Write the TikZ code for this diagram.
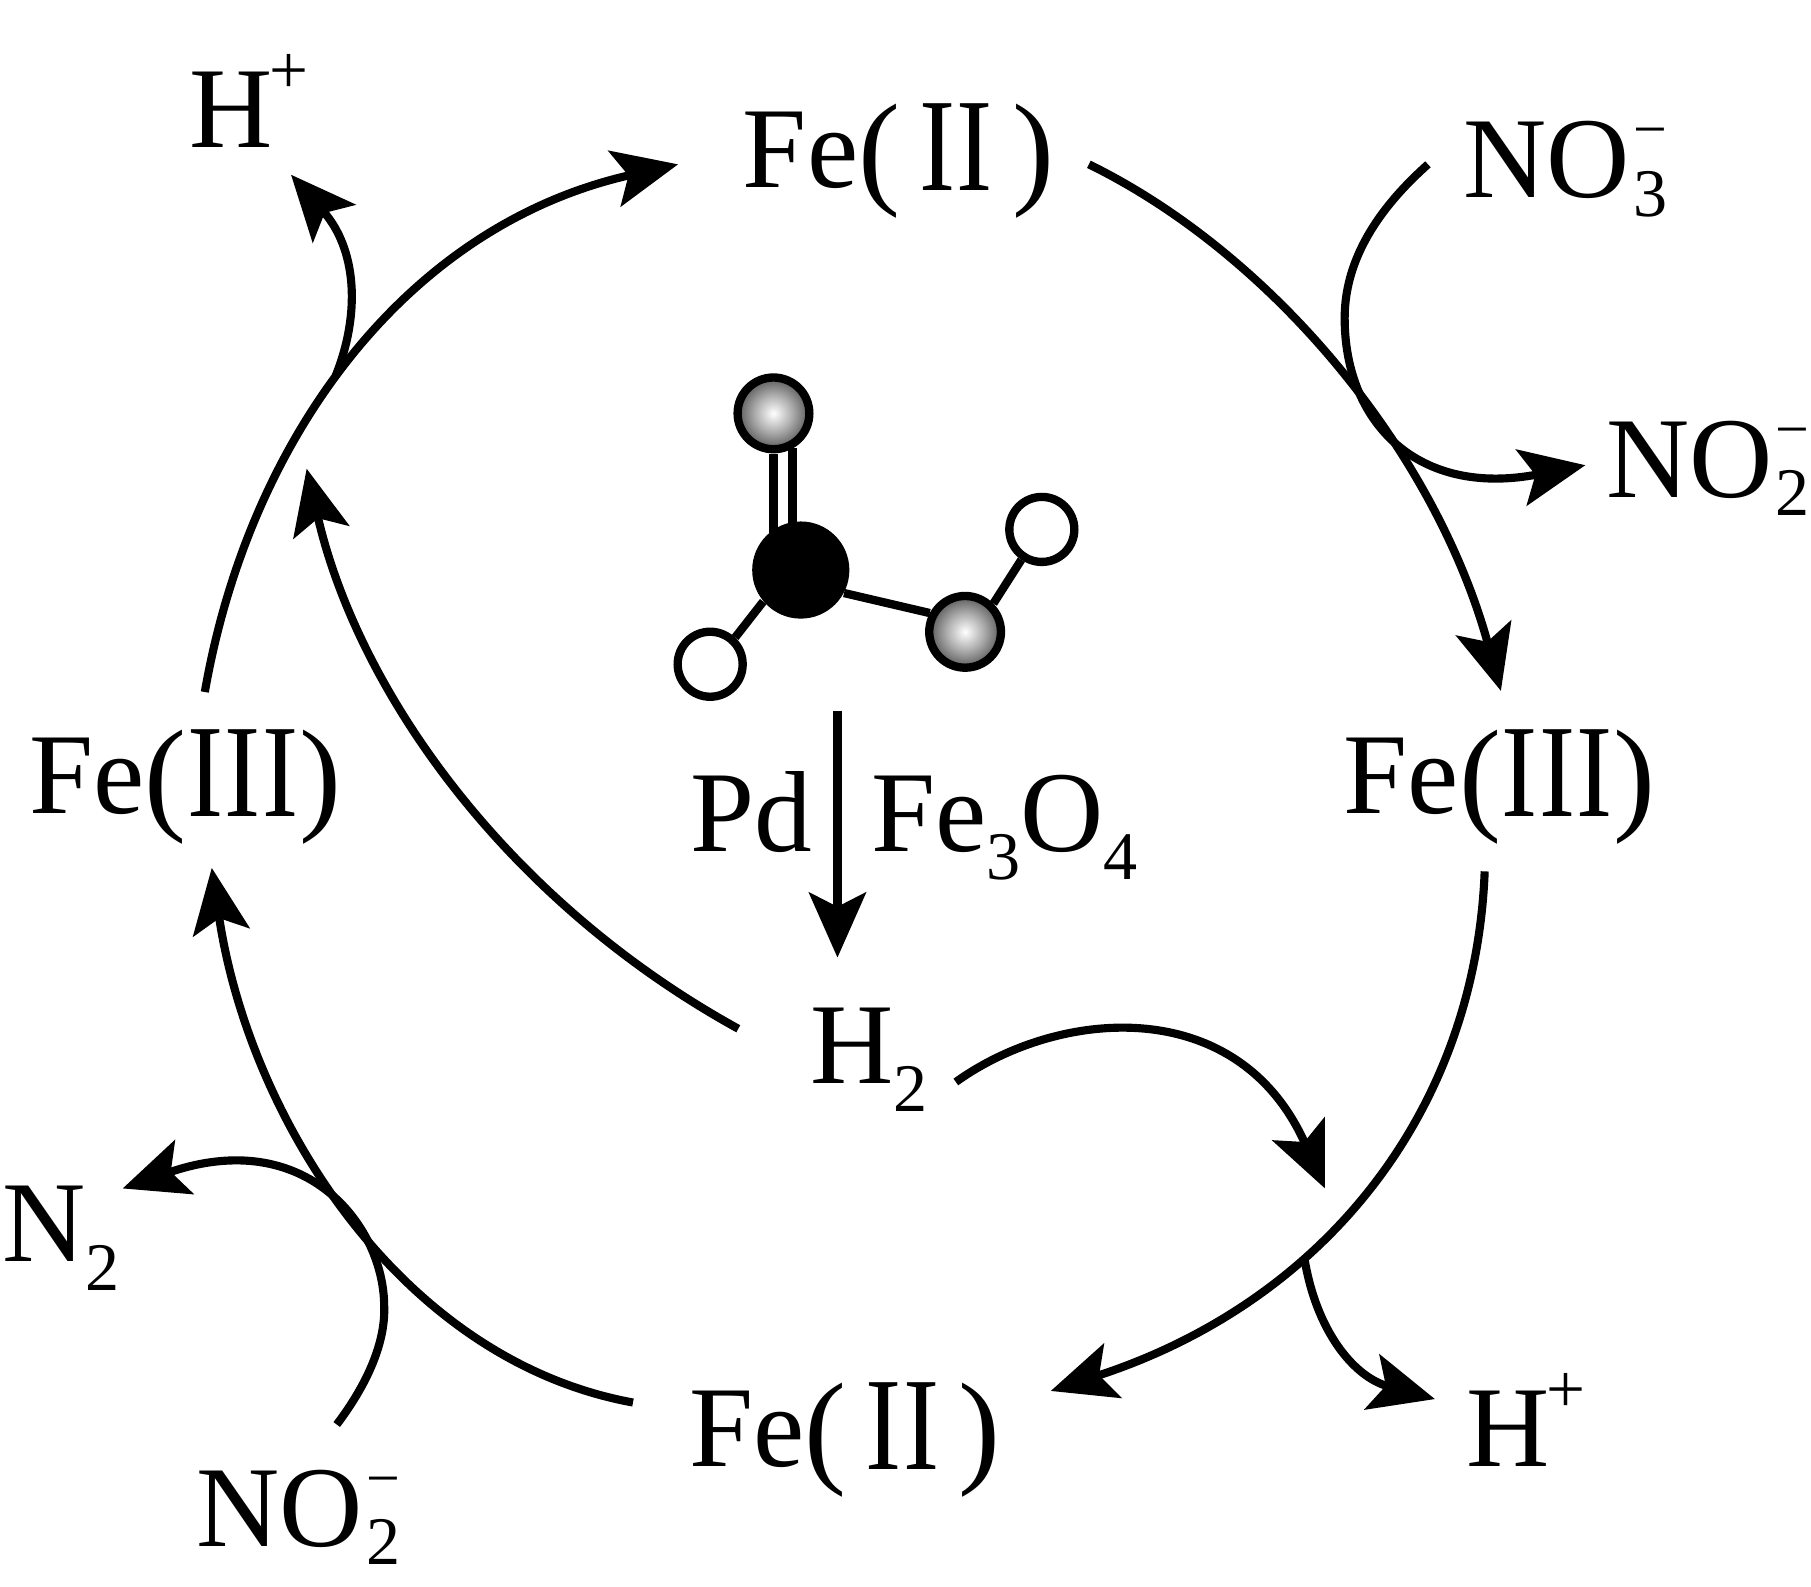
\documentclass[tikz,border=0pt]{standalone}
\usepackage{fontspec}
\usepackage{graphicx}
\setmainfont{Liberation Serif}
\usetikzlibrary{arrows.meta}
\newcommand{\sbs}[1]{\raisebox{-14pt}{\fontsize{33.5}{33.5}\selectfont #1}}
\newcommand{\sbm}[1]{\kern1.6pt\rlap{\raisebox{23.6pt}{\fontsize{29.5}{29.5}\selectfont −}}\raisebox{-9pt}{\fontsize{33.5}{33.5}\selectfont #1}}
\newcommand{\spp}{\kern-1.5pt\raisebox{26.5pt}{\fontsize{34}{34}\selectfont +}}
\newcommand{\prn}[1]{\raisebox{-2pt}{\fontsize{62}{62}\selectfont #1}}
\newcommand{\rom}[1]{\raisebox{-1.6pt}{\scalebox{.94}[1.15]{#1}}}
\newcommand{\rII}{\prn{(}\kern9.3pt\rom{I\kern.7ptI}\kern9.6pt\prn{)}}
\newcommand{\rIII}{\prn{(}\kern.4pt\rom{I\kern.7ptI\kern.7ptI}\kern.4pt\prn{)}}
\pgfdeclareradialshading{atomshade}{\pgfpoint{0bp}{0bp}}{color(0bp)=(white); color(12.5bp)=(white!69!black); color(25bp)=(white!35!black); color(50bp)=(white!35!black)}
\tikzset{
  lab/.style={font=\fontsize{56.7}{60}\selectfont, inner sep=0pt, outer sep=0pt, anchor=base west},
  conn/.style={line width=4pt, -{Stealth[length=32pt,width=28pt,inset=7pt]}},
  bond/.style={line width=4.1pt},
  oxy/.style={circle, draw=black, line width=4.1pt, minimum size=1.24cm, inner sep=0pt, shading=atomshade},
  hyd/.style={circle, draw=black, fill=white, line width=4.1pt, minimum size=1.124cm, inner sep=0pt},
  carb/.style={circle, fill=black, minimum size=1.68cm, inner sep=0pt}
}
\begin{document}
\begin{tikzpicture}[x=0.02cm,y=-0.02cm]
\useasboundingbox (0,0) rectangle (1565,1370.6);
% labels
\node[lab] (hpa) at (163.5,127.5) {H\spp};
\node[lab] (fe2t) at (642,162) {Fe\rII};
\node[lab] (no3) at (1264.5,171) {NO\sbm{3}};
\node[lab] (no2r) at (1388,429.5) {NO\sbm{2}};
\node[lab] (fe3l) at (25.3,703) {Fe\rIII};
\node[lab] (fe3r) at (1161.3,703) {Fe\rIII};
\node[lab] (pd) at (597,735.5) {Pd};
\node[lab] (feo) at (753,735.5) {Fe\sbs{3}O\sbs{4}};
\node[lab] (h2) at (700,936) {H\sbs{2}};
\node[lab] (n2) at (2,1090.5) {N\sbs{2}};
\node[lab] (fe2b) at (595.8,1267) {Fe\rII};
\node[lab] (hpb) at (1267,1267) {H\spp};
\node[lab] (no2b) at (170,1336) {NO\sbm{2}};
% atoms
\node[oxy] (oa) at (668.4,357.2) {};
\node[oxy] (ob) at (834,546) {};
\node[hyd] (ha) at (613.7,574) {};
\node[hyd] (hb) at (900.3,457.5) {};
\coordinate (da) at (668.4,392);
\coordinate (db) at (668.4,470);
\coordinate (dc) at (684.8,387);
\coordinate (dd) at (684.8,470);
\draw[bond] (da) -- (db);
\draw[bond] (dc) -- (dd);
\node[carb] (c) at (692,492.6) {};
\draw[bond] (c.220) -- (ha.47);
\draw[bond] (c.-28) -- (ob.152);
\draw[bond] (ob.45) -- (hb.236);
% connector ends
\coordinate (a1) at (177,598);
\coordinate (a2) at (586,142);
\coordinate (b1) at (941,142);
\coordinate (b2) at (1297,597);
\coordinate (c1) at (1283,753);
\coordinate (c2) at (908,1202);
\coordinate (d1) at (547,1212);
\coordinate (d2) at (183,750);
\coordinate (e1) at (638,889);
\coordinate (e2) at (265,405);
\coordinate (f1) at (826,935);
\coordinate (f2) at (1145,1027);
\coordinate (g1) at (723.7,614);
\coordinate (g2) at (723.7,827.5);
\coordinate (h1) at (1234,142);
\coordinate (h2e) at (1370,402);
\coordinate (i1) at (290,325);
\coordinate (i2) at (251.5,151);
\coordinate (j1) at (1127,1086);
\coordinate (j2) at (1240,1209);
\coordinate (k1) at (291,1231);
\coordinate (k2) at (106,1027);
% connectors
\draw[conn] (a1) .. controls (215,380) and (350,195) .. (a2);
\draw[conn] (b1) .. controls (1100,220) and (1240,390) .. (b2);
\draw[conn] (c1) .. controls (1275,960) and (1145,1125) .. (c2);
\draw[conn] (d1) .. controls (345,1175) and (215,965) .. (d2);
\draw[conn] (e1) .. controls (440,780) and (310,600) .. (e2);
\draw[conn] (f1) .. controls (915,871) and (1070,858) .. (f2);
\draw[conn] (g1) -- (g2);
\draw[conn] (h1) .. controls (1180,190) and (1162,235) .. (1162,275) .. controls (1162,365) and (1225,430) .. (h2e);
\draw[conn] (i1) .. controls (312,270) and (308,215) .. (i2);
\draw[conn] (j1) .. controls (1137,1150) and (1170,1190) .. (j2);
\draw[conn] (k1) .. controls (322,1190) and (333,1155) .. (332,1129) .. controls (332,1060) and (265,972) .. (k2);
\end{tikzpicture}
\end{document}
